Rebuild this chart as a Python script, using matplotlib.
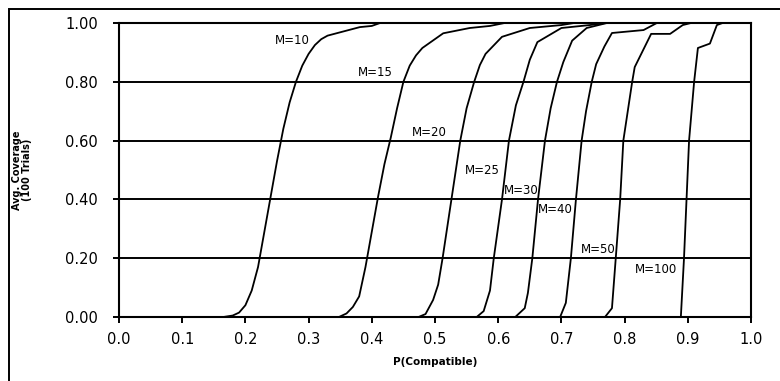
import matplotlib
matplotlib.use("Agg")
import matplotlib.pyplot as plt
from matplotlib.patches import Rectangle

# P(Compatible) vs avg. coverage, one curve per M
m10_p = [0.0, 0.165, 0.18, 0.19, 0.20, 0.21, 0.22, 0.23, 0.24, 0.25, 0.26, 0.27, 0.28,
         0.29, 0.30, 0.31, 0.32, 0.33, 0.381, 0.40, 0.413, 1.0]
m10_v = [0.0, 0.0, 0.005, 0.015, 0.04, 0.09, 0.17, 0.29, 0.41, 0.53, 0.64, 0.73, 0.80,
         0.855, 0.895, 0.925, 0.945, 0.957, 0.986, 0.99, 1.0, 1.0]

m15_p = [0.0, 0.348, 0.36, 0.37, 0.38, 0.39, 0.40, 0.41, 0.42, 0.43, 0.44, 0.45, 0.46,
         0.47, 0.48, 0.513, 0.555, 0.587, 0.61, 1.0]
m15_v = [0.0, 0.0, 0.012, 0.034, 0.07, 0.17, 0.29, 0.41, 0.52, 0.61, 0.71, 0.80, 0.855,
         0.89, 0.915, 0.965, 0.983, 0.99, 1.0, 1.0]

m20_p = [0.0, 0.474, 0.485, 0.497, 0.505, 0.512, 0.526, 0.54, 0.55, 0.562, 0.571, 0.58,
         0.606, 0.65, 0.70, 0.72, 1.0]
m20_v = [0.0, 0.0, 0.01, 0.058, 0.11, 0.2, 0.4, 0.6, 0.71, 0.80, 0.857, 0.895,
         0.953, 0.983, 0.993, 1.0, 1.0]

m25_p = [0.0, 0.566, 0.577, 0.587, 0.593, 0.606, 0.617, 0.628, 0.64, 0.65, 0.662, 0.70,
         0.745, 0.77, 1.0]
m25_v = [0.0, 0.0, 0.02, 0.09, 0.2, 0.4, 0.6, 0.72, 0.80, 0.875, 0.935, 0.983,
         0.993, 1.0, 1.0]

m30_p = [0.0, 0.627, 0.642, 0.647, 0.654, 0.663, 0.674, 0.683, 0.693, 0.703, 0.717, 0.740,
         0.772, 1.0]
m30_v = [0.0, 0.0, 0.03, 0.082, 0.2, 0.4, 0.6, 0.71, 0.80, 0.867, 0.94, 0.983,
         1.0, 1.0]

m40_p = [0.0, 0.698, 0.707, 0.715, 0.723, 0.732, 0.739, 0.748, 0.755, 0.768, 0.78, 0.83,
         0.851, 1.0]
m40_v = [0.0, 0.0, 0.048, 0.2, 0.4, 0.6, 0.7, 0.8, 0.86, 0.92, 0.966, 0.976,
         1.0, 1.0]

m50_p = [0.0, 0.769, 0.78, 0.786, 0.793, 0.798, 0.812, 0.816, 0.842, 0.872, 0.892, 0.905, 1.0]
m50_v = [0.0, 0.0, 0.03, 0.2, 0.4, 0.6, 0.8, 0.85, 0.963, 0.963, 0.993, 1.0, 1.0]

m100_p = [0.0, 0.889, 0.894, 0.898, 0.902, 0.910, 0.916, 0.935, 0.946, 0.955, 1.0]
m100_v = [0.0, 0.0, 0.2, 0.4, 0.6, 0.8, 0.915, 0.93, 0.993, 1.0, 1.0]

curves = [("M=10", m10_p, m10_v), ("M=15", m15_p, m15_v), ("M=20", m20_p, m20_v),
          ("M=25", m25_p, m25_v), ("M=30", m30_p, m30_v), ("M=40", m40_p, m40_v),
          ("M=50", m50_p, m50_v), ("M=100", m100_p, m100_v)]

# where each curve label sits (data coords)
label_pos = {"M=10": (0.274, 0.942), "M=15": (0.405, 0.83), "M=20": (0.491, 0.626),
             "M=25": (0.575, 0.497), "M=30": (0.636, 0.429), "M=40": (0.691, 0.367),
             "M=50": (0.759, 0.231), "M=100": (0.85, 0.163)}

x_ticks = [0.0, 0.1, 0.2, 0.3, 0.4, 0.5, 0.6, 0.7, 0.8, 0.9, 1.0]
y_ticks = [0.0, 0.2, 0.4, 0.6, 0.8, 1.0]

plt.rcParams['font.family'] = ['DejaVu Sans']

fig = plt.figure(figsize=(7.8, 3.81), dpi=100)
ax = fig.add_axes([119/780, 1 - 317/381, 632/780, 294/381])

# horizontal gridlines
for y in y_ticks[1:]:
    ax.axhline(y, color='black', lw=1.4, zorder=1)

for name, p, v in curves:
    ax.plot(p, v, color='black', lw=1.3, zorder=2)
    lx, ly = label_pos[name]
    ax.text(lx, ly, name, fontsize=8.5, ha='center', va='center', zorder=3)

ax.set_xlim(0, 1)
ax.set_ylim(0, 1)
ax.set_xticks(x_ticks)
ax.set_xticklabels(["%.1f" % t for t in x_ticks])
ax.set_yticks(y_ticks)
ax.set_yticklabels(["%.2f" % t for t in y_ticks])
ax.tick_params(axis='both', direction='out', length=4, width=1.4, labelsize=10.5)
ax.tick_params(axis='x', pad=7)
ax.tick_params(axis='y', pad=11)

for s in ax.spines.values():
    s.set_linewidth(1.5)

ax.set_xlabel("P(Compatible)", fontsize=7.5, fontweight='bold', labelpad=7)
ax.set_ylabel("Avg. Coverage\n(100 Trials)", fontsize=7, fontweight='bold', labelpad=24,
              linespacing=1.0)

# outer chart frame, cut off on the right and bottom
fig.patches.append(Rectangle((8.5/780, -0.2), 2, 1.2 - 8.5/381, transform=fig.transFigure,
                             fill=False, lw=1.4, edgecolor='black', clip_on=False))

fig.savefig("out.png", dpi=100)
